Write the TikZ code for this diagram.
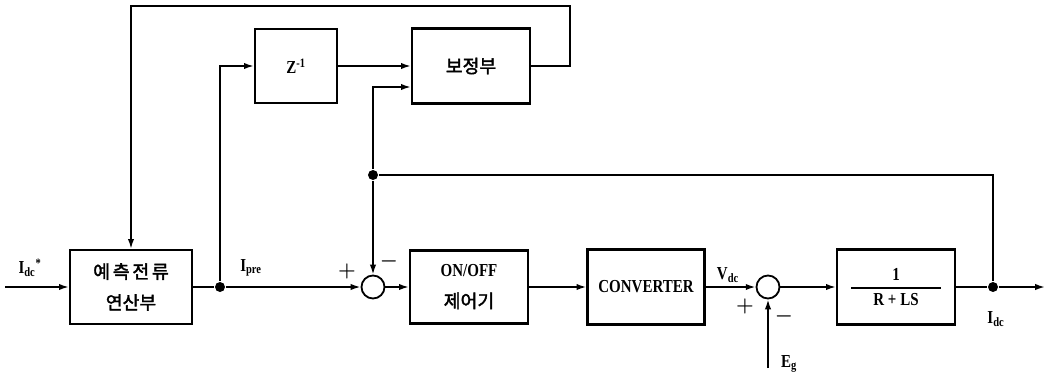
\documentclass[tikz,border=0pt]{standalone}
\usepackage{amsmath}
\usepackage{fontspec}
\setmainfont{Liberation Serif}[FakeStretch=0.82]
\newfontfamily\kr{Noto Sans CJK KR}[AutoFakeBold=2]
\newfontfamily\krw{Noto Sans CJK KR}[AutoFakeBold=2,LetterSpace=15]
\usetikzlibrary{calc,arrows.meta}

\begin{document}
\begin{tikzpicture}[x=0.025cm,y=-0.025cm,line width=1.2pt,>={Latex[length=7pt,width=4.5pt]},
  font=\bfseries\fontsize{13}{22}\selectfont,
  blk/.style 2 args={draw,line width=1.6pt,minimum width=#1*0.025cm,minimum height=#2*0.025cm,align=center,inner sep=0pt},
  sumc/.style={draw,circle,line width=1.3pt,minimum size=23*0.025cm,inner sep=0pt},
  dot/.style={circle,fill,inner sep=0pt,minimum size=10*0.025cm},
  sgn/.style={inner sep=1pt,font=\fontsize{15}{15}\selectfont}]
\useasboundingbox (0,0) rectangle (1053,375);
% blocks
\node[blk={122}{74}] (pred) at (131,287) {\krw\bfseries 예측전류\\\kr\bfseries 연산부};
\node[blk={82}{74}] (zinv) at (296,66) {Z\textsuperscript{-1}};
\node[blk={118}{75}] (corr) at (471,66) {\kr\bfseries 보정부};
\node[sumc] (sum1) at (373,287) {};
\node[blk={118}{73}] (onoff) at (469,287) {ON/OFF\\\kr\bfseries 제어기};
\node[blk={117}{75}] (conv) at (646,287) {CONVERTER};
\node[sumc] (sum2) at (768,287) {};
\node[blk={118}{75}] (plant) at (896,287) {$\genfrac{}{}{1pt}{0}{\textbf{1}}{\makebox[64pt]{\bfseries R + LS}}$};
% branch points
\node[dot] (jpre) at (220,287) {};
\node[dot] (jfb) at (373,175) {};
\node[dot] (jout) at (993,287) {};
\coordinate (in) at (5,287);
\coordinate (out) at (1045,287);
\coordinate (tr) at (570,6);
\coordinate (eg) at (768,368);
% signals
\draw[->] (in) -- (pred);
\draw (pred) -- (jpre);
\draw[->] (jpre) -- (sum1);
\draw[->] (jpre) |- (zinv);
\draw[->] (zinv) -- (corr);
\draw[->] (jfb) |- ($(corr.west)+(0,21)$);
\draw[->] (corr) -| (tr) -| (pred);
\draw (jout) |- (jfb);
\draw[->] (jfb) -- (sum1);
\draw[->] (sum1) -- (onoff);
\draw[->] (onoff) -- (conv);
\draw[->] (conv) -- (sum2);
\draw[->] (sum2) -- (plant);
\draw (plant) -- (jout);
\draw[->] (jout) -- (out);
\draw[->] (eg) -- (sum2);
% labels
\node (lidc) at (30,268) {I\textsubscript{dc}\textsuperscript{*}};
\node (lpre) at (251,268) {I\textsubscript{pre}};
\node[sgn] (lp1) at (347,271) {$\boldsymbol{+}$};
\node[sgn] (lm1) at (389,261) {$\boldsymbol{-}$};
\node (lvdc) at (728,275) {V\textsubscript{dc}};
\node[sgn] (lp2) at (745,306) {$\boldsymbol{+}$};
\node[sgn] (lm2) at (784,316) {$\boldsymbol{-}$};
\node (leg) at (789,364) {E\textsubscript{g}};
\node (lout) at (996,319) {I\textsubscript{dc}};
\end{tikzpicture}
\end{document}
